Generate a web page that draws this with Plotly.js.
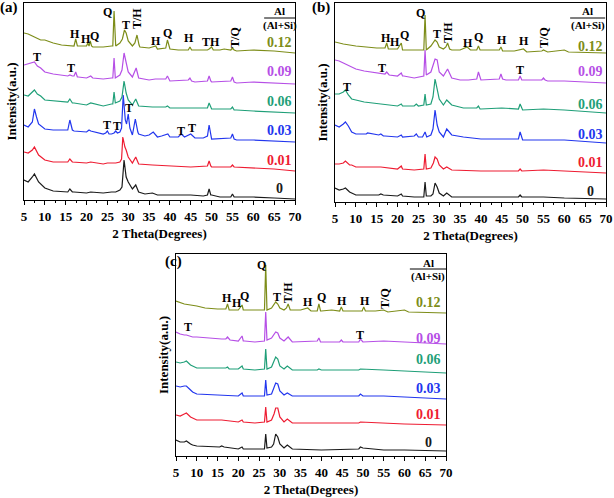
<!DOCTYPE html>
<html>
<head>
<meta charset="utf-8">
<script src="https://cdn.plot.ly/plotly-3.0.1.min.js"></script>
<style>html,body{margin:0;padding:0;background:#fff;}#chart{width:614px;height:498px;}</style>
</head>
<body>
<div id="chart"></div>
<script>
// Al/(Al+Si) ratios (series names) and colours
const ratios = ['0', '0.01', '0.03', '0.06', '0.09', '0.12'];
const colors = ['#1a1a1a', '#ee1c32', '#2236ee', '#1f9f78', '#b64fe6', '#7d8d19'];
const tickVals = [5, 10, 15, 20, 25, 30, 35, 40, 45, 50, 55, 60, 65, 70];

// stacking offsets (intensity units) for each panel, order = ratios
const offsetsA = [1, 29, 58, 87, 116, 147];
const offsetsB = [3, 29, 59, 89, 119, 149];
const offsetsC = [5, 31, 57, 83, 112, 143];

// ---- panel (a): [2theta, intensity] ----
const a_0 = [[5,19],[6,17],[7,22],[7.5,25],[8.5,17],[10,11],[12,8],[14,7],[15.5,7],[16,10],[16.6,7],[17,7],[20,6],[21,7],[24,6],[26,7],[27,7],[28,9],[28.5,12],[29,39],[29.5,22],[30,17],[30.5,14],[31,10],[31.8,14],[32.5,7],[34,5],[35.8,6],[37,4],[40,4],[42,4],[45,4],[48,3],[49,4],[49.4,10],[49.8,4],[50,4],[52,2],[54.6,2],[55,5],[55.4,2],[56,2],[60,2],[65,1],[70,0]];
const a_001 = [[5,19],[6,18],[7,21],[7.5,24],[8.5,16],[10,11],[12,9],[15.5,9],[16,12],[16.6,9],[20,8],[21,9],[24,7],[25,8],[27,8],[28,9],[28.4,12],[28.7,34],[29.2,24],[29.5,21],[30,14],[31,8],[31.8,14],[32.5,7],[35.8,6],[40,5],[45,4],[49,5],[49.4,10],[49.8,5],[50,4],[54.6,4],[55,6],[55.4,4],[60,3],[65,2],[70,0]];
const a_003 = [[5,17],[6,15],[7,20],[7.5,33],[8,25],[8.5,18],[10,13],[12,12],[15.5,12],[16,22],[16.6,12],[17,11],[20,10],[20.6,12],[21,11],[24,8],[24.6,9],[25,11],[25.4,8],[26,8],[26.6,9],[27,11],[27.4,9],[28,10],[28.4,14],[28.8,47],[29.3,22],[29.6,18],[30,28],[30.4,14],[31,7],[31.7,23],[32.3,10],[32.5,8],[34,6],[35,7],[36,10],[37,5],[38,6],[39.5,8],[40,5],[42,5],[42.7,8],[43.5,5],[45,8],[46,4],[48,4],[49,6],[49.4,17],[49.8,6],[50,3],[54.6,4],[55,8],[55.4,3],[56,2],[60,2],[65,1],[70,0]];
const a_006 = [[5,18],[6,17],[7,21],[7.5,23],[8.2,19],[9,17],[10,13],[12,12],[15.5,11],[16,14],[16.6,10],[17,10],[20,8],[21,10],[24,7],[26,9],[26.3,9],[26.6,21],[26.9,10],[28,12],[28.5,16],[29,32],[29.5,20],[30,13],[31,8],[31.8,14],[32.5,7],[35.8,6],[39,6],[39.4,7],[40,5],[45,5],[49,5],[49.4,10],[49.8,5],[50,4],[54.6,4],[55,6],[55.4,3],[56,3],[60,2],[65,1],[70,0]];
const a_009 = [[5,19],[6,20],[7,21],[7.5,22],[8.2,18],[9,16],[10,12],[12,10],[15.5,8],[16,9],[16.6,8],[17,8],[17.4,12],[17.8,7],[18,7],[20,6],[20.5,7],[21,8],[21.5,6],[24,5],[26,6],[26.3,6],[26.6,26],[26.9,6],[28,9],[28.5,14],[29,31],[29.5,21],[30,12],[31,7],[31.9,16],[32.5,6],[35,4],[36.5,5],[39,5],[39.4,8],[39.8,4],[40,3],[44.4,4],[44.8,6],[45.2,3],[46,2],[49,3],[49.4,8],[49.8,3],[50,2],[54.6,3],[55,7],[55.4,2],[56,1],[60,2],[65,1],[70,0]];
const a_012 = [[5,20],[6,19],[7,17],[9,13],[10,13],[12,10],[14,8],[16,7],[17,7],[17.4,14],[17.8,7],[18,7],[20,7],[20.3,10],[20.6,7],[20.9,12],[21.2,7],[21.5,6],[24,6],[26,7],[26.3,7],[26.6,42],[26.9,7],[27,7],[28,10],[28.6,14],[29.1,23],[29.5,20],[30,12],[31,7],[31.6,10],[32.1,18],[32.6,8],[32.8,6],[35,5],[36.6,7],[37,4],[39,5],[39.4,13],[39.8,5],[40,4],[42,3],[44.4,3],[44.8,6],[45.2,3],[45.5,3],[49,3],[49.4,4],[50,6],[50.4,3],[52,3],[53,4],[54.6,3],[55,5],[55.4,3],[56,2],[60,3],[65,2],[70,0]];

// ---- panel (b) ----
const b_0 = [[5,11],[6,9],[7,10],[7.5,11],[8.5,7],[9,6],[10,4],[15.5,4],[16,5],[16.6,4],[20,3],[20.9,5],[21.2,3],[24,2],[26.3,2],[26.6,17],[26.9,3],[28,3],[28.5,5],[29,16],[29.5,12],[30,6],[31,3],[31.8,6],[33,2],[40,2],[49,2],[49.4,4],[49.8,2],[55,2],[60,1],[70,0]];
const b_001 = [[5,9],[6,9],[7,10],[7.5,12],[8.5,8],[9,8],[10,6],[16,6],[20,4],[20.9,7],[21.2,4],[24,3],[26.3,4],[26.6,19],[26.9,4],[28,5],[28.6,10],[29,16],[29.5,14],[30,8],[31,4],[31.8,6],[33,3],[40,2],[49,2],[49.4,4],[49.8,2],[55,3],[60,2],[70,0]];
const b_003 = [[5,18],[6,16],[7,19],[7.5,21],[8.2,17],[9,11],[10,9],[12.5,9],[12.8,10],[15.5,8],[16,9],[16.6,7],[17,7],[20,6],[20.9,8],[21.2,6],[24,7],[24.5,9],[25,6],[26,6],[26.6,11],[27,6],[28,8],[28.5,14],[29,33],[29.5,18],[30,11],[31,6],[31.8,14],[33,8],[35.8,6],[40,4],[45,4],[49,4],[49.4,11],[49.8,4],[50,3],[55,3],[60,3],[70,0]];
const b_006 = [[5,19],[6,19],[7,21],[7.5,23],[8.2,18],[9,14],[10,13],[12,11],[16,9],[20,7],[20.9,9],[21.2,7],[24,7],[24.5,9],[25,7],[26,8],[26.3,8],[26.6,19],[26.9,8],[28,9],[28.5,16],[29,34],[29.5,23],[30,14],[31,8],[31.8,13],[33,8],[35.8,5],[39,5],[39.4,7],[39.8,4],[40,4],[45,5],[49,4],[49.4,9],[49.8,4],[50,3],[55,4],[60,3],[70,0]];
const b_009 = [[5,23],[6,22],[7,20],[7.5,19],[9,16],[10,14],[12,12],[16,9],[17,9],[17.4,11],[17.8,8],[18,8],[20,7],[20.9,10],[21.2,7],[21.5,7],[24,5],[26.3,7],[26.6,33],[26.9,8],[28,11],[28.6,20],[29,24],[29.5,23],[30,11],[31,7],[32,14],[33,5],[35,3],[37,3],[39,4],[39.4,11],[39.8,4],[40,3],[44.4,4],[44.8,9],[45.2,4],[46,3],[49,3],[49.4,7],[49.8,3],[50,3],[54.6,3],[55,5],[55.4,3],[56,2],[60,2],[70,0]];
const b_012 = [[5,11],[7,9],[10,7],[12,6],[15,5],[17,5],[17.4,10],[17.8,4],[18,4],[20,4],[20.9,10],[21.2,3],[21.5,3],[24,3],[26.3,3],[26.6,38],[26.9,3],[28,7],[29,13],[29.5,11],[30,6],[31,4],[31.6,6],[32,10],[32.5,4],[33,3],[35,3],[36.7,6],[37.5,3],[39,3],[39.4,7],[39.8,3],[40,3],[44.4,3],[44.8,6],[45.2,2],[45.5,2],[48,2],[50.2,4],[51,1],[54.6,2],[55,3],[56,1],[60,3],[61,1],[70,0]];

// ---- panel (c) ----
const c_0 = [[5,11],[6,9],[7,9],[7.5,10],[8.5,7],[9,6],[10,5],[15.5,4],[16,5],[16.6,4],[20,2],[20.9,4],[21.2,2],[24,2],[26.3,2],[26.6,17],[26.9,3],[28,4],[28.5,7],[29,17],[29.5,14],[30,7],[31,3],[31.8,6],[33,2],[40,1],[49,2],[49.4,4],[50,3],[55,1],[60,1],[70,0]];
const c_001 = [[5,10],[6,9],[7,11],[7.5,12],[8.5,8],[9,7],[10,5],[16,5],[20,3],[20.9,5],[21.2,3],[24,2],[26.3,3],[26.6,18],[26.9,3],[28,5],[28.6,11],[29,17],[29.5,17],[30,8],[31,3],[31.8,6],[33,2],[40,2],[49,2],[49.4,3],[55,2],[60,1],[70,0]];
const c_003 = [[5,13],[6,12],[7,13],[7.5,13],[8.5,9],[9,7],[10,5],[16,4],[20,3],[20.9,6],[21.2,3],[24,3],[26.3,3],[26.6,19],[26.9,4],[28,5],[28.6,11],[29,16],[29.5,15],[30,8],[31,4],[31.8,6],[33,3],[40,3],[49,3],[49.4,5],[50,3],[55,3],[60,2],[70,0]];
const c_006 = [[5,11],[6,10],[7,11],[7.5,12],[8.5,8],[9,7],[10,5],[16,5],[17,5],[17.4,6],[17.8,4],[20,4],[20.9,7],[21.2,4],[24,3],[26.3,4],[26.6,24],[26.9,4],[28,6],[28.6,12],[29,16],[29.5,14],[30,7],[31,4],[31.8,7],[33,3],[39,3],[39.4,4],[40,3],[49,3],[49.4,4],[55,3],[60,2],[70,0]];
const c_009 = [[5,12],[6,10],[7,9],[7.5,9],[9,7],[10,7],[16,5],[17,5],[17.4,7],[17.8,4],[18,4],[20,3],[20.9,8],[21.2,3],[21.5,3],[24,2],[26.3,3],[26.6,32],[26.9,4],[28,6],[28.6,10],[29,12],[29.5,11],[30,6],[31,3],[32,7],[33,2],[36.6,3],[39,3],[39.4,6],[39.8,2],[40,2],[44.4,2],[44.8,4],[45.2,2],[49,2],[49.4,5],[50,2],[55,3],[60,2],[70,0]];
const c_012 = [[5,12],[7,9],[10,7],[12,5],[15,4],[17,4],[17.4,9],[17.8,3],[18,3],[20,3],[20.9,8],[21.2,3],[21.5,3],[24,3],[26.3,3],[26.6,48],[26.9,3],[28,5],[29,11],[29.5,9],[30,5],[31,3],[31.6,5],[32,9],[32.5,3],[33,3],[35,3],[36.7,5],[37.5,2],[39,2],[39.4,9],[39.8,2],[40,2],[42.5,3],[44.4,2],[44.8,6],[45.2,2],[45.5,2],[49.8,2],[50.2,6],[50.6,2],[51,2],[53,2],[55,3],[56,1],[60,3],[61,1],[70,0]];

// phase labels: [text, 2theta, y, rotated]
const peaksA = [['Q',25.1,188,0],['H',17.2,166,0],['H',19.8,161,0],['Q',21.9,164,0],['T',29.5,175,0],['T/H',32.1,182,1],['H',36.7,159,0],['Q',39.5,167,0],['H',44.6,162,0],['TH',49.9,158,0],['T/Q',55.6,163,1],['T',8.1,143,0],['T',16.3,132,0],['T',30.2,92,0],['T',24.9,75,0],['T',27.3,74,0],['T',42.7,69,0],['T',45.3,72,0]];
const peaksB = [['Q',25.6,189,0],['H',17.3,164,0],['H',19.4,160,0],['Q',21.6,167,0],['T',29.5,168,0],['T/H',32.1,170,1],['H',36.9,159,0],['Q',39.5,165,0],['H',45.1,162,0],['H',50.3,161,0],['T/Q',55.1,165,1],['T',16.3,134,0],['T',49.4,132,0],['T',7.9,115,0]];
const peaksC = [['Q',25.5,191,0],['H',17.3,158,0],['H',19.6,153,0],['Q',21.6,160,0],['T',29.3,159,0],['T/H',32.0,163,1],['H',36.8,154,0],['Q',40.1,159,0],['H',45.0,155,0],['H',50.5,155,0],['T/Q',55.3,158,1],['T',7.9,129,0],['T',49.3,121,0]];

const seriesLabelY = {a: [11, 39, 69, 98, 128, 157], b: [10, 39, 67, 97, 130, 155], c: [14, 42, 68, 97, 118, 154]};

const FONT = 'Liberation Serif, Times New Roman, serif';
const panels = [
  {key: 'a', sfx: '', data: [a_0, a_001, a_003, a_006, a_009, a_012], off: offsetsA, peaks: peaksA,
   dom: [24, 295, 3, 200], yr: 197, labX: 66.2, hdr: {x0: 62.6, x1: 70, xc: 66.3, yAl: 188.5, yLine: 182, ySum: 174.5}, tag: [9, 8, '(a)']},
  {key: 'b', sfx: '2', data: [b_0, b_001, b_003, b_006, b_009, b_012], off: offsetsB, peaks: peaksB,
   dom: [335, 606, 3, 202], yr: 199, labX: 66.2, hdr: {x0: 61.4, x1: 69.8, xc: 65.6, yAl: 190.5, yLine: 184, ySum: 176.5}, tag: [321, 8, '(b)']},
  {key: 'c', sfx: '3', data: [c_0, c_001, c_003, c_006, c_009, c_012], off: offsetsC, peaks: peaksC,
   dom: [176, 446, 254, 456], yr: 202, labX: 65.9, hdr: {x0: 61.3, x1: 70, xc: 65.7, yAl: 193.5, yLine: 187, ySum: 179.5}, tag: [173, 261, '(c)']}
];

const W = 614, H = 498;
const traces = [], annotations = [], shapes = [];
const layout = {
  width: W, height: H, margin: {l: 0, r: 0, t: 0, b: 0},
  paper_bgcolor: '#fff', plot_bgcolor: '#fff', showlegend: false,
  font: {family: FONT, color: '#000'}
};

panels.forEach(p => {
  const xa = 'x' + p.sfx, ya = 'y' + p.sfx;
  p.data.forEach((d, i) => {
    traces.push({
      type: 'scatter', mode: 'lines', xaxis: xa, yaxis: ya, name: ratios[i],
      x: d.map(v => v[0]), y: d.map(v => v[1] + p.off[i]),
      line: {color: colors[i], width: 1.2}, hoverinfo: 'skip'
    });
    annotations.push({xref: xa, yref: ya, x: p.labX, y: seriesLabelY[p.key][i], text: ratios[i],
      showarrow: false, xanchor: 'center', yanchor: 'middle',
      font: {family: FONT, size: 14, weight: 'bold', color: colors[i]}});
  });
  p.peaks.forEach(k => {
    annotations.push({xref: xa, yref: ya, x: k[1], y: k[2], text: k[0], showarrow: false,
      textangle: k[3] ? -90 : 0, xanchor: 'center', yanchor: 'middle', borderpad: 0,
      font: {family: FONT, size: 12, weight: 'bold', color: '#000'}});
  });
  annotations.push({xref: xa, yref: ya, x: p.hdr.xc, y: p.hdr.yAl, text: 'Al', showarrow: false,
    borderpad: 0, font: {family: FONT, size: 11, weight: 'bold'}});
  annotations.push({xref: xa, yref: ya, x: p.hdr.xc, y: p.hdr.ySum, text: '(Al+Si)', showarrow: false,
    borderpad: 0, font: {family: FONT, size: 11, weight: 'bold'}});
  shapes.push({type: 'line', xref: xa, yref: ya, x0: p.hdr.x0, x1: p.hdr.x1, y0: p.hdr.yLine, y1: p.hdr.yLine,
    line: {color: '#000', width: 1}});
  annotations.push({xref: 'paper', yref: 'paper', x: p.tag[0] / W, y: 1 - p.tag[1] / H, text: p.tag[2],
    showarrow: false, xanchor: 'center', yanchor: 'middle', font: {family: FONT, size: 15, weight: 'bold'}});

  layout['xaxis' + p.sfx] = {
    domain: [p.dom[0] / W, p.dom[1] / W], anchor: ya, range: [5, 70],
    tickmode: 'array', tickvals: tickVals, ticktext: tickVals.map(String),
    ticks: 'outside', ticklen: 4, tickwidth: 1, tickcolor: '#000',
    minor: {dtick: 2.5, tick0: 2.5, ticks: 'outside', ticklen: 2, tickcolor: '#000'},
    showline: true, linecolor: '#000', linewidth: 1, mirror: true, showgrid: false, zeroline: false,
    tickfont: {family: FONT, size: 13, weight: 'bold'},
    title: {text: '2 Theta(Degrees)', font: {family: FONT, size: 13, weight: 'bold'}, standoff: 6},
    automargin: false, fixedrange: true
  };
  layout['yaxis' + p.sfx] = {
    domain: [1 - p.dom[3] / H, 1 - p.dom[2] / H], anchor: xa, range: [0, p.yr],
    showticklabels: false, ticks: '', showgrid: false, zeroline: false,
    showline: true, linecolor: '#000', linewidth: 1, mirror: true,
    title: {text: 'Intensity(a.u.)', font: {family: FONT, size: 13, weight: 'bold'}, standoff: 3},
    automargin: false, fixedrange: true
  };
});
layout.annotations = annotations;
layout.shapes = shapes;

Plotly.newPlot('chart', traces, layout, {displayModeBar: false, staticPlot: true});
</script>
</body>
</html>
